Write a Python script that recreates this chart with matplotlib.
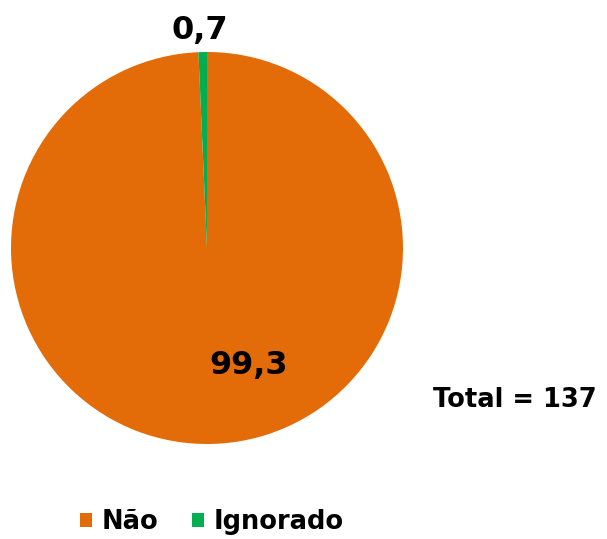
import matplotlib.pyplot as plt
from matplotlib.patches import Patch

labels = ["Não", "Ignorado"]
values = [99.3, 0.7]
value_texts = ["99,3", "0,7"]
colors = ["#E36C09", "#00B050"]
total = 137

W, H = 607, 539
fig = plt.figure(figsize=(W / 100, H / 100), dpi=100)

cx, cy, r = 207, 248, 196
ax = fig.add_axes([(cx - r) / W, (H - cy - r) / H, 2 * r / W, 2 * r / H])
ax.pie(values, colors=colors, startangle=90, counterclock=False,
       wedgeprops=dict(linewidth=0))
ax.set_xlim(-1, 1)
ax.set_ylim(-1, 1)
ax.set_aspect("equal")
ax.axis("off")

# data labels
ax.text(0.21, -0.6, value_texts[0], ha="center", va="center",
        fontsize=23, fontweight="bold", color="black")
ax.text(-0.036, 1.11, value_texts[1], ha="center", va="center",
        fontsize=23, fontweight="bold", color="black", clip_on=False)

fig.text(433 / W, 1 - 400 / H, f"Total = {total}", ha="left", va="center",
         fontsize=18.5, fontweight="bold")

handles = [Patch(facecolor=c, edgecolor="none") for c in colors]
fig.legend(handles, labels, loc="center", bbox_to_anchor=(212 / W, 1 - 522 / H),
           ncol=2, frameon=False, prop=dict(size=18.5, weight="bold"),
           handlelength=0.45, handleheight=0.45, handletextpad=0.4,
           columnspacing=1.3, borderpad=0.1)

fig.savefig("out.png", dpi=100)
